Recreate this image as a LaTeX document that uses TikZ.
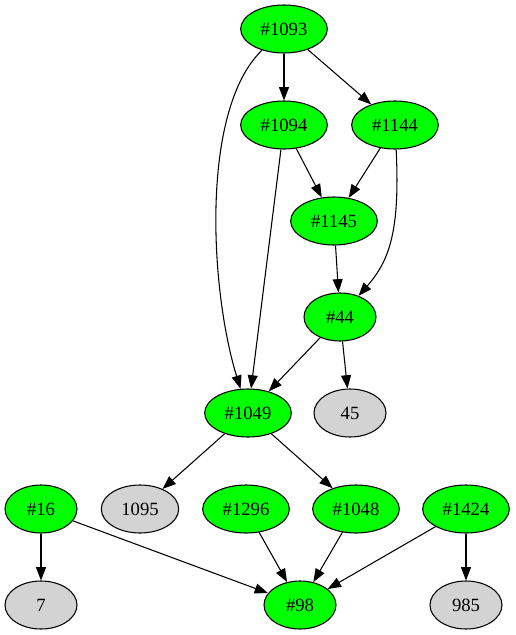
\documentclass[tikz,border=0pt]{standalone}
\usepackage{fontspec}
\setmainfont{Liberation Serif}
\usetikzlibrary{shapes.geometric,arrows.meta}
\begin{document}
\begin{tikzpicture}[x=0.75pt,y=-0.75pt,
  gnode/.style={ellipse,draw=black,line width=0.8pt,fill={rgb,255:red,0;green,255;blue,0},inner sep=0pt,minimum height=36pt,font=\fontsize{14pt}{16pt}\selectfont},
  wide/.style={minimum width=65pt},
  narrow/.style={minimum width=54pt},
  mid/.style={minimum width=58pt},
  grey/.style={fill={rgb,255:red,211;green,211;blue,211}},
  edge/.style={draw=black,line width=0.8pt,-{Triangle[length=10pt,width=7.5pt]}}]
\useasboundingbox (0,0) rectangle (515,635);
\node[gnode,wide] (n1093) at (284,29) {\#1093};
\node[gnode,wide] (n1094) at (284,125) {\#1094};
\node[gnode,wide] (n1144) at (395,125) {\#1144};
\node[gnode,wide] (n1145) at (334,221) {\#1145};
\node[gnode,narrow] (n44) at (340,317) {\#44};
\node[gnode,wide] (n1049) at (248,413) {\#1049};
\node[gnode,narrow,grey] (n45) at (350,413) {45};
\node[gnode,narrow] (n16) at (41,509) {\#16};
\node[gnode,mid,grey] (n1095) at (140,509) {1095};
\node[gnode,wide] (n1296) at (246,509) {\#1296};
\node[gnode,wide] (n1048) at (356,509) {\#1048};
\node[gnode,wide] (n1424) at (466,509) {\#1424};
\node[gnode,narrow,grey] (n7) at (41,605) {7};
\node[gnode,narrow] (n98) at (300,605) {\#98};
\node[gnode,narrow,grey] (n985) at (466,605) {985};
\draw[edge] (n1093) .. controls (200,110) and (210,290) .. (n1049);
\draw[edge] (n1093) -- (n1094);
\draw[edge] (n1093) -- (n1144);
\draw[edge] (n1094) -- (n1145);
\draw[edge] (n1094) -- (n1049);
\draw[edge] (n1144) -- (n1145);
\draw[edge] (n1144) .. controls (400,230) and (390,260) .. (n44);
\draw[edge] (n1145) -- (n44);
\draw[edge] (n44) -- (n1049);
\draw[edge] (n44) -- (n45);
\draw[edge] (n1049) -- (n1095);
\draw[edge] (n1049) -- (n1048);
\draw[edge] (n16) -- (n7);
\draw[edge] (n16) -- (n98);
\draw[edge] (n1296) -- (n98);
\draw[edge] (n1048) -- (n98);
\draw[edge] (n1424) -- (n98);
\draw[edge] (n1424) -- (n985);
\end{tikzpicture}
\end{document}
